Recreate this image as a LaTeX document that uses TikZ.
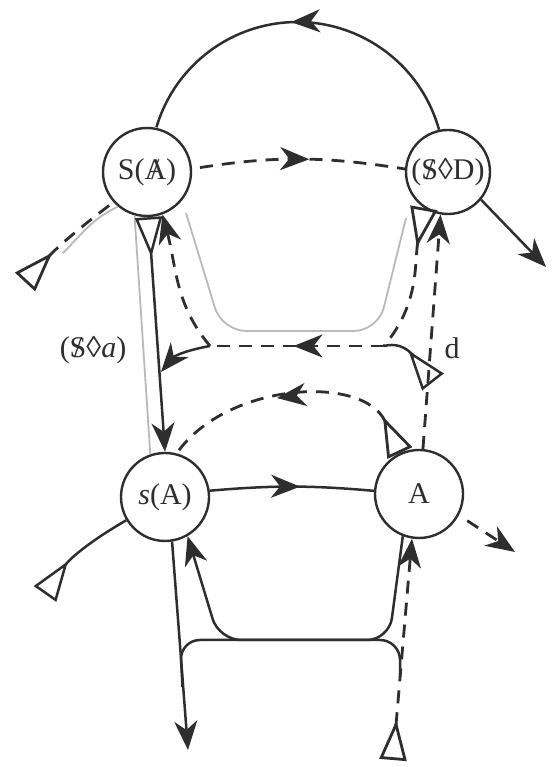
\documentclass[tikz,border=0pt]{standalone}
\usepackage{fontspec}
\setmainfont{Liberation Serif}
\usetikzlibrary{arrows.meta,decorations.markings}
% letter struck through by a slash
\newcommand\barred[1]{\ooalign{#1\cr\hidewidth/\hidewidth\cr}}

\tikzset{
  ink/.style={black!82},
  endarr/.style={-{Stealth[length=29pt,width=23pt,inset=9pt]}},
  starttri/.style={{Triangle[open,reversed,length=40pt,width=27pt]}-},
  bothtips/.style={{Triangle[open,reversed,length=40pt,width=27pt]}-{Stealth[length=29pt,width=23pt,inset=9pt]}},
  state/.style={circle,draw,ink,line width=2.4pt,minimum size=88pt,inner sep=0pt,
    font=\fontsize{30}{36}\selectfont},
  lab/.style={ink,inner sep=0pt,font=\fontsize{30}{36}\selectfont},
  line/.style={ink,line width=2.5pt},
  dashline/.style={ink,line width=2.8pt,dash pattern=on 13pt off 9pt},
  grayline/.style={gray!55,line width=1.8pt},
  midarrow/.style={postaction={decorate,decoration={markings,
    mark=at position #1 with {\arrow{Stealth[length=29pt,width=23pt,inset=9pt]}}}}}
}

\begin{document}
\begin{tikzpicture}[x=1pt,y=1pt]
\useasboundingbox (0,0) rectangle (553,767);

% the four places of the graph
\node[state] (S)  at (147,595) {S(\barred{A})};
\node[state,minimum size=84pt] (D) at (448,595) {(\barred{S}◊D)};
\node[state] (sA) at (165,270) {\textit{s}(A)};
\node[state] (A)  at (419,273) {A};

% free ends and junctions
\coordinate (SLin)  at (25,485);
\coordinate (GLend) at (63,514);
\coordinate (Dout)  at (546,500);
\coordinate (JL)    at (210,421);
\coordinate (JR)    at (384,421);
\coordinate (Lhit)  at (161,395);
\coordinate (Rtri)  at (433,385);
\coordinate (sAtri) at (45,173);
\coordinate (sAout) at (188,17);
\coordinate (Delta) at (393,7);
\coordinate (Aout)  at (515,215);

% upper chain
\draw[line,midarrow=0.52] (D.102) arc[start angle=15.5,end angle=163.5,radius=147];
\draw[dashline,midarrow=0.55,shorten <=8pt] (S.4) to[bend left=9] (D.176);
\draw[line,endarr] (D.-40) -- (Dout);
\draw[dashline,starttri] (SLin) to[bend left=5] (S.222);
\draw[grayline] (S.230) to[out=205,in=45] (GLend);

% retroversion lines (grey)
\draw[grayline] (S.-106) -- (sA.109);
\draw[grayline,rounded corners=24pt] (186,554) -- (222,436) -- (378,436) -- (406,549);

% from S down to s(A)
\draw[line,bothtips] (S.-88) -- (sA.90);

% middle dashed chain
\draw[dashline,midarrow=0.52] (JR) -- (JL);
\draw[line,endarr] (JL) to[out=190,in=50] (Lhit);
\draw[dashline,endarr] (JL) to[out=130,in=-75] (S.-70);
\draw[dashline,starttri] (D.236) to[out=260,in=50] (JR);
\draw[line,starttri] (Rtri) to[out=128,in=15] (JR);
\draw[dashline,endarr] (A.85) -- (D.260);
\node[lab] (dlab) at (452,419) {d};
\node[lab] (Salab) at (93,417) {(\barred{S}◊\textit{a})};

% dashed arc from A back to s(A)
\draw[dashline,starttri,midarrow=0.55] (A.115) to[out=115,in=55,looseness=1.0] (sA.75);

% lower chain
\draw[line,midarrow=0.55] (sA.8) to[bend left=5] (A.176);
\draw[line,starttri] (sAtri) to[out=55,in=210] (sA.211);
\draw[line,endarr] (sA.-81) -- (sAout);
\draw[line,rounded corners=22pt,endarr] (A.249) -- (389,127) -- (219,127) -- (sA.-60);
\draw[line,rounded corners=20pt] (182.5,80) -- (180,127) -- (400,127) -- (400,90);
\draw[dashline,bothtips] (Delta) -- (A.261);
\draw[dashline,endarr,shorten <=10pt] (A.-28) -- (Aout);
\end{tikzpicture}
\end{document}
